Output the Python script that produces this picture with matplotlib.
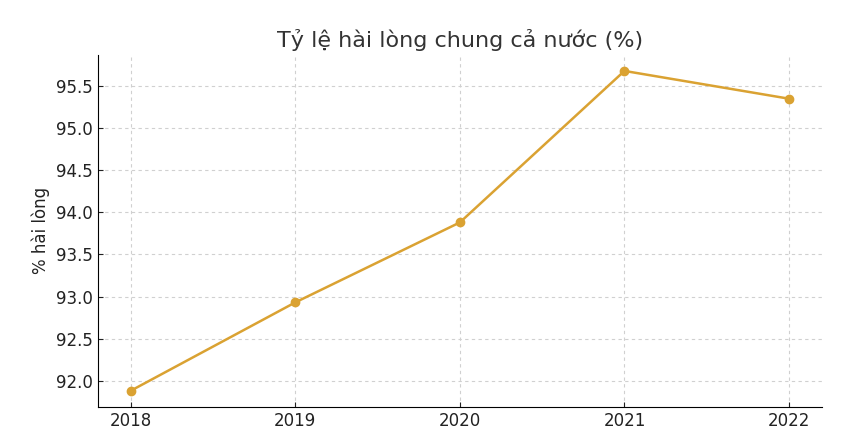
import matplotlib
matplotlib.use("Agg")
import matplotlib.pyplot as plt

years = [2018, 2019, 2020, 2021, 2022]
satisfaction = [91.88, 92.93, 93.88, 95.68, 95.35]

fig, ax = plt.subplots(figsize=(8.5, 4.36), dpi=100)
fig.subplots_adjust(left=0.115, right=0.967, bottom=0.067, top=0.874)

ax.plot(years, satisfaction, color="#DAA232", marker="o", markersize=6, linewidth=1.8)

ax.set_title("Tỷ lệ hài lòng chung cả nước (%)", fontsize=16, color="#333333", pad=6)
ax.set_ylabel("% hài lòng", fontsize=12, color="#222222")
ax.set_xticks(years)
ax.set_yticks([92.0, 92.5, 93.0, 93.5, 94.0, 94.5, 95.0, 95.5])
ax.yaxis.set_major_formatter(matplotlib.ticker.FormatStrFormatter("%.1f"))
ax.tick_params(direction="in", labelsize=12, colors="#222222")
ax.grid(True, linestyle=(0, (3, 3)), color="#d0d0d0", linewidth=0.8)
ax.spines["top"].set_visible(False)
ax.spines["right"].set_visible(False)

fig.savefig("out.png", dpi=100)
